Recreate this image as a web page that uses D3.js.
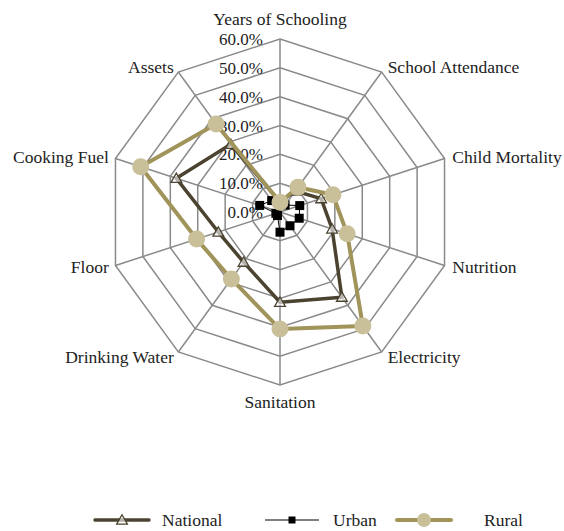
<!DOCTYPE html>
<html>
<head>
<meta charset="utf-8">
<script src="https://cdn.jsdelivr.net/npm/d3@7"></script>
<style>
  body { margin: 0; background: #fff; }
  svg text { font-family: "Liberation Serif", "Times New Roman", serif; fill: #222; }
</style>
</head>
<body>
<div id="chart"></div>
<script>
// Poverty deprivation indicators by area (share of population deprived)
var categories = ["Years of Schooling", "School Attendance", "Child Mortality", "Nutrition",
                  "Electricity", "Sanitation", "Drinking Water", "Floor", "Cooking Fuel", "Assets"];
var national = [3.5, 9.0, 15.0, 19.0, 36.5, 31.3, 21.5, 22.5, 37.8, 29.0];
var urban    = [2.5, 3.0, 7.2, 7.0, 5.9, 7.0, 1.5, 1.5, 7.4, 4.9];
var rural    = [3.4, 10.6, 19.3, 24.5, 48.9, 40.6, 28.7, 30.4, 50.8, 37.7];
var ticks = [0, 10, 20, 30, 40, 50, 60];

var width = 564, height = 531;
var cx = 280, cy = 212, radius = 173;

var svg = d3.select("#chart").append("svg")
    .attr("width", width)
    .attr("height", height);

var g = svg.append("g")
    .attr("transform", "translate(" + cx + "," + cy + ")");

// scales
var r = d3.scaleLinear().domain([0, 60]).range([0, radius]);
var angle = d3.scaleLinear().domain([0, categories.length]).range([0, 2 * Math.PI]);

function pt(i, v) {
    var a = angle(i);
    return [Math.sin(a) * r(v), -Math.cos(a) * r(v)];
}

// grid rings
ticks.slice(1).forEach(function (t) {
    g.append("polygon")
        .attr("points", categories.map(function (c, i) { return pt(i, t).join(","); }).join(" "))
        .attr("fill", "none")
        .attr("stroke", "#8a8a8a")
        .attr("stroke-width", 1.5);
});

// spokes
categories.forEach(function (c, i) {
    var p = pt(i, 60);
    g.append("line")
        .attr("x1", 0).attr("y1", 0)
        .attr("x2", p[0]).attr("y2", p[1])
        .attr("stroke", "#8a8a8a")
        .attr("stroke-width", 1.5);
});

// axis category labels
categories.forEach(function (c, i) {
    var a = angle(i);
    var p = pt(i, 60);
    var s = Math.sin(a), co = Math.cos(a);
    var x = p[0], y = p[1], anchor = "middle";
    if (Math.abs(s) < 0.01) {
        y += co > 0 ? -14 : 23;
    } else if (s > 0) {
        anchor = "start";
        x += 3 + 5 * s;
        y += 6 - 6 * co;
    } else {
        anchor = "end";
        x -= 1 + 6 * Math.abs(s);
        y += 6 - 6 * co;
    }
    g.append("text")
        .attr("x", x)
        .attr("y", y)
        .attr("text-anchor", anchor)
        .attr("font-size", "17.5px")
        .text(c);
});

// radial tick labels
ticks.forEach(function (t) {
    g.append("text")
        .attr("x", -17)
        .attr("y", -r(t))
        .attr("dy", "0.36em")
        .attr("text-anchor", "end")
        .attr("font-size", "17px")
        .text(d3.format(".1f")(t) + "%");
});

var radial = d3.lineRadial()
    .angle(function (d, i) { return angle(i); })
    .radius(function (d) { return r(d); })
    .curve(d3.curveLinearClosed);

var series = [
    {name: "National", values: national, color: "#4b4330", width: 3.5, marker: "triangle"},
    {name: "Urban", values: urban, color: "#000000", width: 1, marker: "square"},
    {name: "Rural", values: rural, color: "#a0945a", width: 4, marker: "circle"}
];

function drawMarker(sel, s, x, y, small) {
    if (s.marker === "triangle") {
        sel.append("path")
            .attr("d", d3.symbol().type(d3.symbolTriangle).size(50)())
            .attr("transform", "translate(" + x + "," + (y + 1) + ")")
            .attr("fill", "#fff")
            .attr("fill-opacity", 0.6)
            .attr("stroke", s.color)
            .attr("stroke-width", 1.3);
    } else if (s.marker === "square") {
        var h = small ? 3.5 : 4.5;
        sel.append("rect")
            .attr("x", x - h).attr("y", y - h)
            .attr("width", 2 * h).attr("height", 2 * h)
            .attr("fill", "#000");
    } else {
        sel.append("circle")
            .attr("cx", x).attr("cy", y)
            .attr("r", small ? 7 : 8.5)
            .attr("fill", "#c9c09a");
    }
}

series.forEach(function (s) {
    var sg = g.append("g").attr("class", "series");
    sg.append("path")
        .attr("d", radial(s.values))
        .attr("fill", "none")
        .attr("stroke", s.color)
        .attr("stroke-width", s.width)
        .attr("stroke-linejoin", "round");
    s.values.forEach(function (v, i) {
        var p = pt(i, v);
        drawMarker(sg, s, p[0], p[1], false);
    });
});

// legend
var legendX = [95, 265, 397];
var legend = svg.append("g").attr("transform", "translate(0,520)");
series.forEach(function (s, i) {
    var lg = legend.append("g").attr("transform", "translate(" + legendX[i] + ",0)");
    lg.append("line")
        .attr("x1", 0).attr("x2", 54)
        .attr("y1", 0).attr("y2", 0)
        .attr("stroke", s.color)
        .attr("stroke-width", s.width)
        .attr("stroke-linecap", s.width > 2 ? "round" : "butt");
    drawMarker(lg, s, 27, 0, true);
    lg.append("text")
        .attr("x", [67, 68, 87][i])
        .attr("y", 0)
        .attr("dy", "0.33em")
        .attr("font-size", "17.5px")
        .text(s.name);
});
</script>
</body>
</html>
